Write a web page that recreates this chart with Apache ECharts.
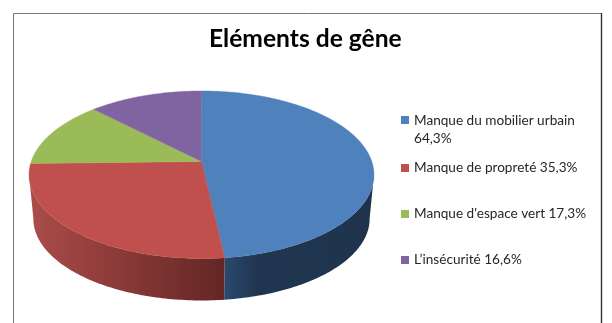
<!DOCTYPE html>
<html><head><meta charset="utf-8">
<style>html,body{margin:0;padding:0;background:#fff}#c{width:612px;height:323px}</style>
<script src="https://cdn.jsdelivr.net/npm/echarts@6/dist/echarts.min.js"></script></head>
<body><div id="c"></div>
<script>
const categories = ["Manque du mobilier urbain", "Manque de propreté", "Manque d'espace vert", "L’insécurité"];
const values = [64.3, 35.3, 17.3, 16.6];
const valueLabels = ["64,3%", "35,3%", "17,3%", "16,6%"];
const topColors = ["#4F81BD", "#C0504D", "#9BBB59", "#8064A2"];
const sideStops = [
  [[0, "#2A4A70"], [0.22, "#20354F"], [1, "#1F344C"]],
  [[0, "#AC4C49"], [1, "#632624"]],
  [[0, "#7A9646"], [1, "#7A9646"]],
  [[0, "#65507F"], [1, "#65507F"]]
];
const legendTops = [112, 159, 205, 251];
const titleText = "Eléments de gêne";

const total = values.reduce((a, b) => a + b, 0);
const names = categories.map((c, i) => c + " " + valueLabels[i]);
const CX = 201.5, AY = 161.5, A = 170.3, B = 81.7, K = -0.158;
const WALL0 = 99 * Math.PI / 180, WALL1 = 261 * Math.PI / 180;
function rimPoint(th) {
  const u = Math.sin(th), v = -Math.cos(th), d = 1 + K * v;
  return [CX + A * u / d, AY + B * v / d];
}
function lowerPoint(p) {
  return [CX + (p[0] - CX) * 0.975, 219 + (p[1] - 175) * 0.975];
}
function arc(t0, t1) {
  const pts = [], n = Math.max(2, Math.ceil((t1 - t0) * 60));
  for (let i = 0; i <= n; i++) pts.push(rimPoint(t0 + (t1 - t0) * i / n));
  return pts;
}
function sliceRender(params, api) {
  const i = params.seriesIndex;
  let before = 0;
  for (let k = 0; k < i; k++) before += values[k];
  const t0 = before / total * 2 * Math.PI;
  const t1 = (before + api.value(0)) / total * 2 * Math.PI;
  const children = [];
  const w0 = Math.max(t0, WALL0), w1 = Math.min(t1, WALL1);
  if (w1 > w0) {
    const wall = arc(w0, w1);
    const low = wall.map(lowerPoint).reverse();
    const s = sideStops[i];
    children.push({
      type: "polygon",
      shape: { points: wall.concat(low) },
      style: {
        fill: new echarts.graphic.LinearGradient(0, 0, 1, 0,
          s.map(c => ({ offset: c[0], color: c[1] }))),
        stroke: null
      }
    });
  }
  children.push({
    type: "polygon",
    shape: { points: [[CX, AY]].concat(arc(t0, t1)) },
    style: { fill: topColors[i], stroke: topColors[i], lineWidth: 0.4 }
  });
  return { type: "group", children };
}
const series = names.map((n, i) => ({
  type: "custom",
  name: n,
  coordinateSystem: "none",
  renderItem: sliceRender,
  data: [[values[i]]],
  itemStyle: { color: topColors[i] },
  silent: true,
  animation: false
}));
const legend = names.map((n, i) => ({
  data: [{ name: n, icon: i === 0 ? "path://M0 0H10V10H0ZM0 35L0 35Z" : "rect", itemStyle: { color: topColors[i] } }],
  left: 401,
  top: legendTops[i],
  padding: 0,
  itemWidth: 8,
  itemHeight: i === 0 ? 28 : 8,
  itemGap: 0,
  selectedMode: false,
  formatter: i === 0 ? () => categories[0] + "\n" + valueLabels[0] : undefined,
  textStyle: { fontFamily: "Lato", fontSize: 13.6, color: "#262626", lineHeight: 18 }
}));
const chart = echarts.init(document.getElementById("c"), null, { renderer: "canvas" });
chart.setOption({
  animation: false,
  backgroundColor: "#fff",
  title: {
    text: titleText, left: 204, top: 22,
    textStyle: { fontFamily: "Lato", fontWeight: "bold", fontSize: 24.6, color: "#000" }
  },
  legend,
  graphic: [
    { type: "polyline", shape: { points: [[13.5, 323], [13.5, 13.5], [601.5, 13.5]] },
      style: { stroke: "#777", lineWidth: 1, fill: null }, silent: true },
    { type: "polyline", shape: { points: [[601.5, 13], [601.5, 323]] },
      style: { stroke: "#333", lineWidth: 1.4, fill: null }, silent: true }
  ],
  series
});
</script></body></html>
